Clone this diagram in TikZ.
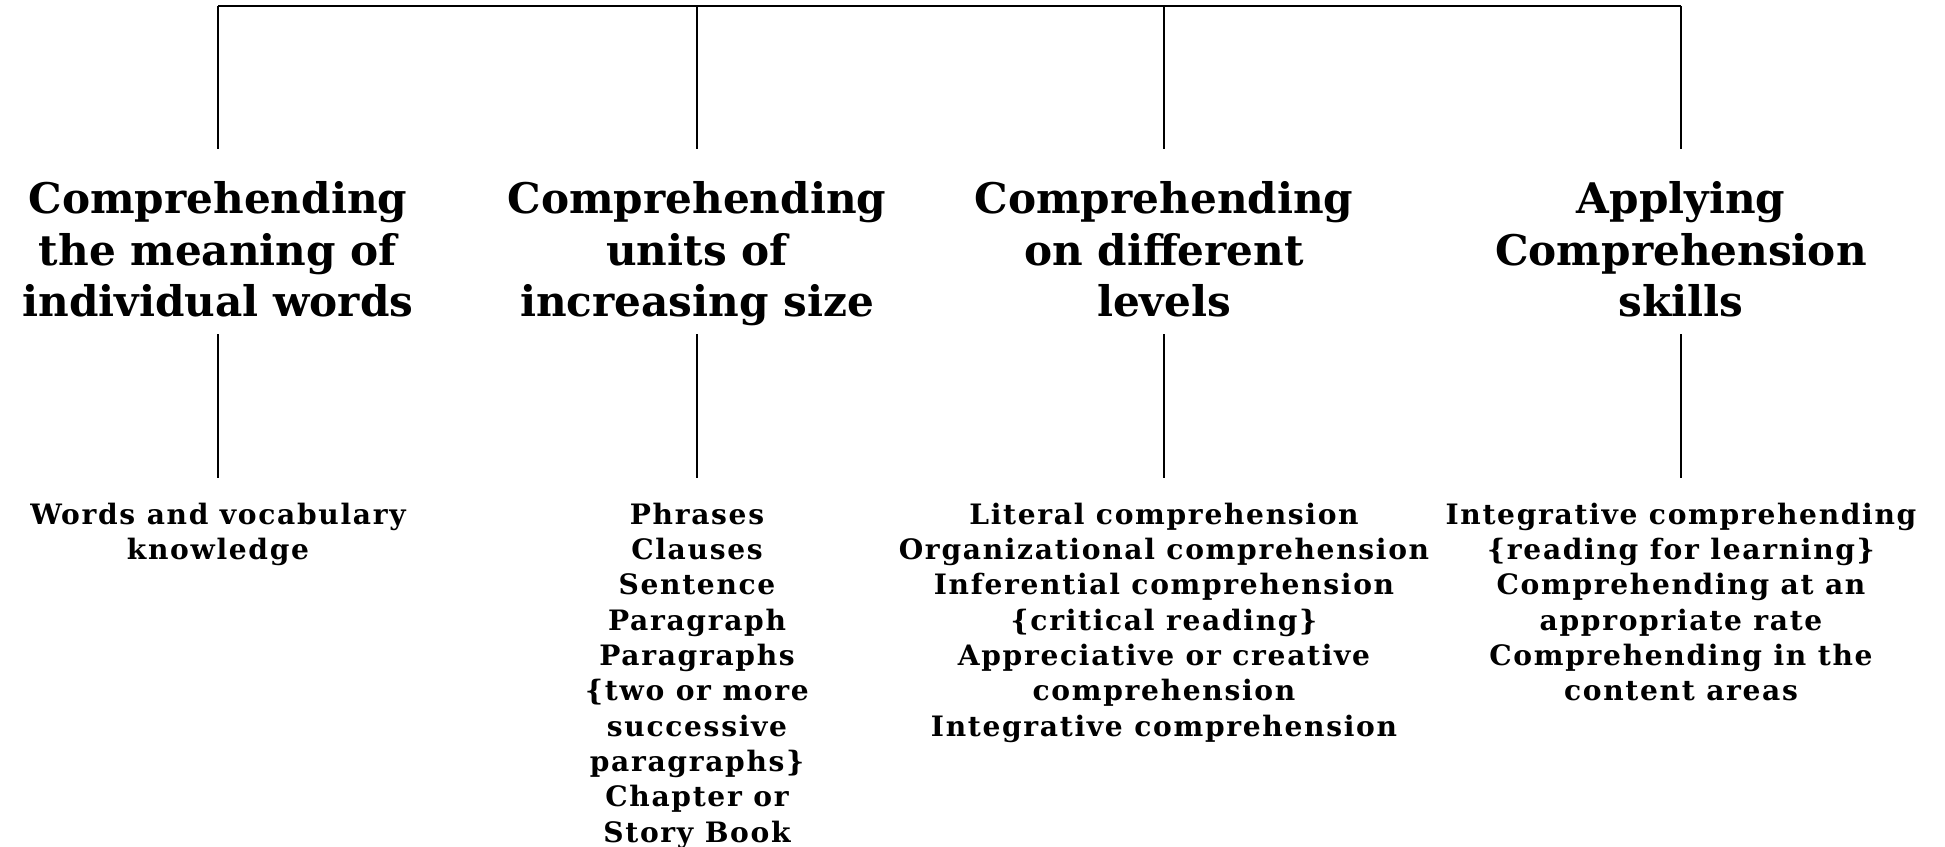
\documentclass[tikz,border=0pt]{standalone}
\usepackage{fontspec}
\setmainfont{DejaVu Serif}
\newfontfamily\itemfont[LetterSpace=6.0]{DejaVu Serif}
\usepackage{tikz}

\begin{document}
\begin{tikzpicture}[
  head/.style={anchor=north,align=center,inner sep=0pt,text depth=0.05cm,font=\bfseries\fontsize{12}{14.6}\selectfont},
  item/.style={anchor=north,align=center,inner sep=0pt,font=\itemfont\bfseries\fontsize{8}{10.06}\selectfont},
  link/.style={line width=0.5pt}]
\useasboundingbox (0,0) rectangle (19.45,-8.47);
%top bar
\path (2.18,-0.06) coordinate(t1)
(6.97,-0.06) coordinate(t2)
(11.64,-0.06) coordinate(t3)
(16.81,-0.06) coordinate(t4);
%the four headings
\path (2.18,-1.81) node(h1)[head]{Comprehending\\the meaning of\\individual words}
(6.97,-1.81) node(h2)[head]{Comprehending\\units of\\increasing size}
(11.64,-1.81) node(h3)[head]{Comprehending\\on different\\levels}
(16.81,-1.81) node(h4)[head]{Applying\\Comprehension\\skills};
%what comes under each heading
\path (2.18,-5.02) node(s1)[item]{Words and vocabulary\\knowledge}
(6.97,-5.02) node(s2)[item]{Phrases\\Clauses\\Sentence\\Paragraph\\Paragraphs\\\{two or more\\successive\\paragraphs\}\\Chapter or\\Story Book}
(11.64,-5.02) node(s3)[item]{Literal comprehension\\Organizational comprehension\\Inferential comprehension\\\{critical reading\}\\Appreciative or creative\\comprehension\\Integrative comprehension}
(16.81,-5.02) node(s4)[item]{Integrative comprehending\\\{reading for learning\}\\Comprehending at an\\appropriate rate\\Comprehending in the\\content areas};
\draw[link](t1)--(t4);
\draw[link,shorten >=0.32cm](t1)--(h1);
\draw[link,shorten >=0.32cm](t2)--(h2);
\draw[link,shorten >=0.32cm](t3)--(h3);
\draw[link,shorten >=0.32cm](t4)--(h4);
\draw[link,shorten <=0.12cm,shorten >=0.24cm](h1.south)--(s1.north);
\draw[link,shorten <=0.12cm,shorten >=0.24cm](h2.south)--(s2.north);
\draw[link,shorten <=0.12cm,shorten >=0.24cm](h3.south)--(s3.north);
\draw[link,shorten <=0.12cm,shorten >=0.24cm](h4.south)--(s4.north);

\end{tikzpicture}
\end{document}
